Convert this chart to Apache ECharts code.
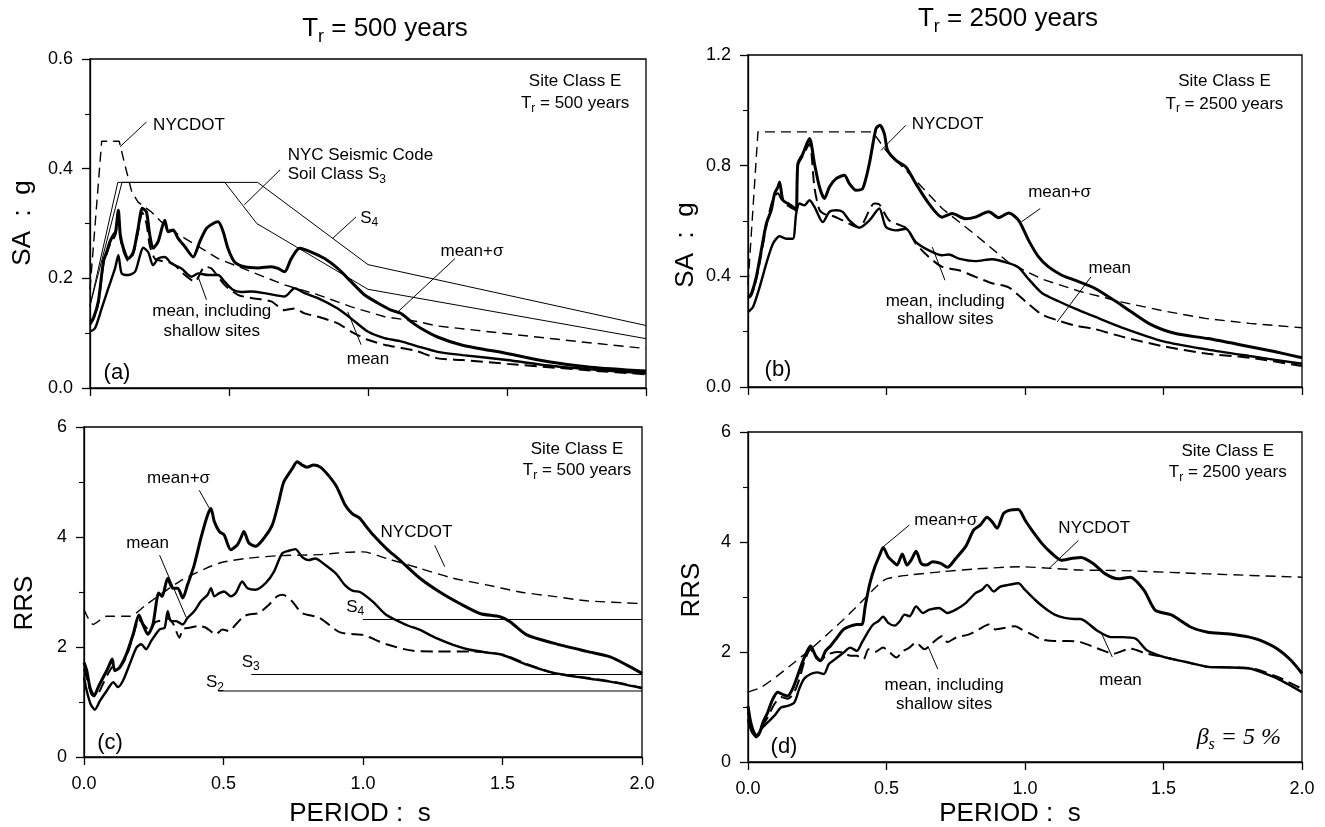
<!DOCTYPE html>
<html>
<head>
<meta charset="utf-8">
<title>Site Class E response spectra</title>
<script src="https://cdn.jsdelivr.net/npm/echarts@6/dist/echarts.min.js"></script>
<style>
  html, body { margin: 0; padding: 0; background: #fff; }
  #chart { width: 1325px; height: 827px; }
</style>
</head>
<body>
<div id="chart"></div>
<script>
// period axis ticks, shared by all four panels
const periodTicks = [0, 0.5, 1.0, 1.5, 2.0]

// (a) SA, Tr = 500 years  [period s, SA g]
const aMeanSigma = [[0,0.121],[0.012,0.127],[0.03,0.158],[0.048,0.23],[0.06,0.248],[0.072,0.267],[0.084,0.279],[0.092,0.285],[0.102,0.324],[0.109,0.279],[0.12,0.255],[0.138,0.236],[0.156,0.248],[0.173,0.291],[0.188,0.328],[0.203,0.321],[0.215,0.279],[0.227,0.255],[0.245,0.267],[0.269,0.306],[0.281,0.285],[0.299,0.288],[0.317,0.273],[0.341,0.258],[0.371,0.239],[0.395,0.267],[0.419,0.291],[0.443,0.30],[0.461,0.303],[0.479,0.285],[0.496,0.255],[0.52,0.23],[0.556,0.221],[0.604,0.219],[0.652,0.221],[0.676,0.218],[0.70,0.212],[0.724,0.236],[0.754,0.255],[0.796,0.248],[0.844,0.236],[0.891,0.218],[0.939,0.194],[0.987,0.17],[1.035,0.155],[1.083,0.142],[1.119,0.136],[1.155,0.121],[1.19,0.109],[1.25,0.093],[1.34,0.078],[1.5,0.063],[1.65,0.048],[1.8,0.038],[2.0,0.031]]
const aMean = [[0,0.103],[0.018,0.109],[0.042,0.145],[0.066,0.182],[0.09,0.218],[0.102,0.242],[0.114,0.209],[0.138,0.206],[0.162,0.212],[0.18,0.242],[0.191,0.256],[0.209,0.248],[0.227,0.224],[0.245,0.236],[0.269,0.239],[0.293,0.227],[0.329,0.218],[0.365,0.203],[0.389,0.209],[0.425,0.206],[0.461,0.206],[0.484,0.194],[0.514,0.179],[0.544,0.175],[0.58,0.176],[0.628,0.173],[0.70,0.167],[0.736,0.182],[0.772,0.173],[0.82,0.164],[0.891,0.145],[0.939,0.127],[0.999,0.103],[1.059,0.091],[1.119,0.085],[1.178,0.076],[1.25,0.066],[1.34,0.06],[1.5,0.051],[1.65,0.041],[1.8,0.034],[2.0,0.027]]
const aShallow = [[0,0.115],[0.012,0.125],[0.03,0.155],[0.048,0.225],[0.06,0.245],[0.072,0.262],[0.084,0.272],[0.092,0.28],[0.102,0.31],[0.109,0.275],[0.12,0.25],[0.138,0.232],[0.156,0.245],[0.173,0.285],[0.188,0.32],[0.203,0.30],[0.215,0.26],[0.233,0.236],[0.255,0.232],[0.281,0.23],[0.305,0.224],[0.341,0.206],[0.377,0.194],[0.413,0.221],[0.437,0.218],[0.484,0.188],[0.532,0.17],[0.58,0.164],[0.652,0.158],[0.70,0.142],[0.736,0.145],[0.772,0.136],[0.82,0.13],[0.891,0.118],[0.939,0.103],[0.999,0.088],[1.059,0.079],[1.119,0.073],[1.178,0.067],[1.25,0.054],[1.34,0.051],[1.5,0.044],[1.65,0.038],[1.8,0.032],[2.0,0.025]]
const aNycdot = [[0,0.18],[0.042,0.45],[0.105,0.45],[0.126,0.406],[0.15,0.358],[0.173,0.339],[0.221,0.321],[0.281,0.291],[0.341,0.273],[0.461,0.236],[0.58,0.212],[0.70,0.188],[0.82,0.17],[0.94,0.148],[1.06,0.13],[1.18,0.121],[1.25,0.113],[1.5,0.099],[1.75,0.085],[2.0,0.072]]
const aCodeS3 = [[0,0.15],[0.1,0.375],[0.485,0.375],[0.6,0.30],[1.0,0.18],[2.0,0.09]]
const aCodeS4 = [[0,0.15],[0.115,0.375],[0.603,0.375],[1.0,0.225],[2.0,0.114]]

// (b) SA, Tr = 2500 years
const bMeanSigma = [[0,0.325],[0.012,0.337],[0.03,0.398],[0.048,0.494],[0.066,0.59],[0.084,0.639],[0.096,0.699],[0.108,0.723],[0.114,0.741],[0.126,0.675],[0.144,0.663],[0.162,0.651],[0.174,0.639],[0.18,0.807],[0.198,0.843],[0.222,0.898],[0.24,0.807],[0.258,0.723],[0.276,0.681],[0.294,0.723],[0.318,0.753],[0.348,0.765],[0.366,0.735],[0.39,0.711],[0.414,0.717],[0.438,0.807],[0.462,0.934],[0.476,0.946],[0.492,0.916],[0.504,0.855],[0.534,0.819],[0.57,0.795],[0.606,0.735],[0.653,0.663],[0.701,0.614],[0.737,0.627],[0.785,0.608],[0.821,0.614],[0.869,0.633],[0.905,0.612],[0.941,0.629],[0.977,0.602],[1.013,0.53],[1.049,0.47],[1.085,0.434],[1.133,0.404],[1.18,0.386],[1.25,0.358],[1.35,0.295],[1.45,0.228],[1.54,0.194],[1.66,0.175],[1.78,0.152],[1.9,0.128],[2.0,0.106]]
const bMean = [[0,0.271],[0.018,0.289],[0.042,0.361],[0.066,0.446],[0.09,0.518],[0.114,0.545],[0.138,0.536],[0.162,0.536],[0.174,0.627],[0.186,0.663],[0.204,0.657],[0.222,0.675],[0.24,0.651],[0.27,0.596],[0.294,0.633],[0.318,0.639],[0.342,0.633],[0.366,0.602],[0.402,0.576],[0.438,0.602],[0.474,0.645],[0.498,0.578],[0.534,0.566],[0.57,0.572],[0.606,0.524],[0.653,0.494],[0.701,0.476],[0.725,0.479],[0.761,0.464],[0.821,0.455],[0.881,0.462],[0.941,0.448],[0.977,0.432],[1.013,0.39],[1.061,0.34],[1.121,0.31],[1.181,0.283],[1.25,0.255],[1.35,0.215],[1.5,0.165],[1.66,0.135],[1.81,0.112],[2.0,0.084]]
const bShallow = [[0,0.32],[0.012,0.33],[0.03,0.39],[0.048,0.48],[0.066,0.58],[0.084,0.66],[0.096,0.69],[0.108,0.70],[0.12,0.68],[0.144,0.655],[0.162,0.645],[0.174,0.64],[0.18,0.80],[0.198,0.835],[0.222,0.88],[0.24,0.72],[0.258,0.64],[0.276,0.625],[0.30,0.62],[0.342,0.602],[0.40,0.576],[0.456,0.663],[0.474,0.66],[0.51,0.602],[0.57,0.575],[0.606,0.518],[0.653,0.47],[0.701,0.434],[0.761,0.422],[0.821,0.398],[0.881,0.375],[0.941,0.36],[1.001,0.31],[1.061,0.262],[1.121,0.24],[1.181,0.222],[1.25,0.21],[1.35,0.182],[1.5,0.147],[1.66,0.12],[1.81,0.106],[2.0,0.076]]
const bNycdot = [[0,0.37],[0.036,0.922],[0.45,0.922],[0.498,0.855],[0.582,0.771],[0.701,0.645],[0.821,0.55],[0.941,0.45],[1.061,0.39],[1.2,0.345],[1.35,0.307],[1.5,0.275],[1.65,0.248],[1.81,0.23],[2.0,0.214]]

// (c) RRS, Tr = 500 years
const cMeanSigma = [[0,1.72],[0.01,1.57],[0.021,1.27],[0.036,1.11],[0.051,1.27],[0.069,1.45],[0.087,1.63],[0.101,1.78],[0.11,1.57],[0.128,1.63],[0.152,1.87],[0.176,2.23],[0.197,2.58],[0.211,2.41],[0.229,2.23],[0.247,2.41],[0.268,2.98],[0.28,2.92],[0.30,3.25],[0.318,3.07],[0.336,3.07],[0.354,2.89],[0.371,3.13],[0.395,3.49],[0.419,3.98],[0.443,4.4],[0.455,4.52],[0.467,4.28],[0.485,4.1],[0.502,4.04],[0.526,3.77],[0.55,3.86],[0.562,3.98],[0.573,4.1],[0.591,3.89],[0.615,3.83],[0.645,3.98],[0.675,4.22],[0.698,4.64],[0.716,5.0],[0.746,5.24],[0.764,5.37],[0.781,5.31],[0.799,5.27],[0.823,5.31],[0.847,5.27],[0.876,5.12],[0.906,4.91],[0.936,4.58],[0.96,4.43],[0.989,4.34],[1.007,4.22],[1.036,4.04],[1.084,3.79],[1.132,3.58],[1.204,3.25],[1.275,3.0],[1.347,2.79],[1.419,2.61],[1.491,2.55],[1.527,2.46],[1.587,2.22],[1.683,2.07],[1.802,1.92],[1.886,1.82],[1.946,1.67],[2.0,1.52]]
const cMean = [[0,1.45],[0.01,1.2],[0.024,0.96],[0.039,0.86],[0.057,1.02],[0.081,1.2],[0.105,1.36],[0.122,1.27],[0.14,1.39],[0.164,1.69],[0.188,1.99],[0.205,2.05],[0.223,1.96],[0.241,2.11],[0.271,2.32],[0.289,2.35],[0.30,2.65],[0.312,2.47],[0.33,2.47],[0.354,2.41],[0.371,2.53],[0.395,2.65],[0.419,2.83],[0.443,2.95],[0.455,3.07],[0.467,2.92],[0.485,2.98],[0.502,3.01],[0.526,2.92],[0.544,2.98],[0.567,3.19],[0.586,3.07],[0.615,3.04],[0.651,3.16],[0.681,3.37],[0.71,3.7],[0.734,3.75],[0.758,3.78],[0.781,3.64],[0.805,3.58],[0.829,3.61],[0.865,3.49],[0.904,3.33],[0.936,3.12],[0.964,3.02],[0.989,3.0],[1.036,2.82],[1.084,2.58],[1.156,2.4],[1.204,2.31],[1.263,2.16],[1.323,2.04],[1.383,1.95],[1.443,1.9],[1.503,1.85],[1.587,1.68],[1.683,1.53],[1.802,1.43],[1.886,1.37],[2.0,1.25]]
const cShallow = [[0,1.6],[0.012,1.4],[0.03,1.12],[0.05,1.15],[0.07,1.35],[0.09,1.55],[0.105,1.65],[0.12,1.6],[0.15,1.8],[0.176,2.2],[0.197,2.5],[0.215,2.4],[0.235,2.3],[0.255,2.45],[0.275,2.48],[0.30,2.52],[0.32,2.42],[0.342,2.17],[0.354,2.32],[0.377,2.35],[0.413,2.38],[0.437,2.35],[0.473,2.23],[0.496,2.32],[0.52,2.29],[0.544,2.41],[0.573,2.56],[0.591,2.59],[0.627,2.62],[0.663,2.77],[0.692,2.92],[0.713,2.95],[0.746,2.83],[0.781,2.62],[0.844,2.53],[0.916,2.27],[0.971,2.23],[1.0,2.22],[1.084,2.05],[1.18,1.93],[1.263,1.92],[1.383,1.92],[1.503,1.86],[1.587,1.69],[1.683,1.53],[1.802,1.44],[1.886,1.38],[2.0,1.26]]
const cNycdot = [[0,2.68],[0.033,2.41],[0.081,2.56],[0.164,2.56],[0.223,2.77],[0.342,3.19],[0.437,3.43],[0.496,3.54],[0.58,3.61],[0.698,3.66],[0.844,3.68],[0.936,3.72],[1.0,3.73],[1.084,3.61],[1.204,3.43],[1.323,3.25],[1.443,3.13],[1.563,3.0],[1.683,2.92],[1.802,2.84],[2.0,2.79]]
const cCodeS2 = [[0.48,1.2],[2.0,1.2]]
const cCodeS3 = [[0.6,1.5],[2.0,1.5]]
const cCodeS4 = [[1.0,2.5],[2.0,2.5]]

// (d) RRS, Tr = 2500 years
const dMeanSigma = [[0,1.02],[0.01,0.72],[0.024,0.51],[0.036,0.48],[0.054,0.72],[0.071,0.9],[0.089,1.14],[0.107,1.27],[0.125,1.23],[0.143,1.2],[0.161,1.33],[0.179,1.57],[0.196,1.81],[0.214,2.02],[0.226,2.11],[0.244,1.93],[0.262,1.84],[0.28,2.02],[0.298,2.11],[0.321,2.26],[0.345,2.41],[0.369,2.47],[0.393,2.5],[0.411,2.5],[0.423,2.83],[0.44,3.25],[0.458,3.55],[0.476,3.77],[0.488,3.9],[0.506,3.73],[0.524,3.64],[0.538,3.58],[0.557,3.78],[0.574,3.58],[0.589,3.67],[0.607,3.83],[0.625,3.61],[0.643,3.58],[0.667,3.64],[0.696,3.61],[0.72,3.54],[0.75,3.7],[0.786,3.92],[0.815,4.22],[0.839,4.31],[0.863,4.45],[0.881,4.37],[0.899,4.25],[0.923,4.52],[0.946,4.58],[0.976,4.59],[1.0,4.4],[1.024,4.22],[1.06,3.98],[1.095,3.8],[1.131,3.67],[1.167,3.7],[1.202,3.72],[1.246,3.61],[1.29,3.42],[1.337,3.33],[1.38,3.36],[1.43,3.12],[1.47,2.76],[1.53,2.67],[1.6,2.45],[1.66,2.36],[1.73,2.33],[1.81,2.27],[1.85,2.21],[1.91,2.06],[1.96,1.85],[2.0,1.61]]
const dMean = [[0,0.78],[0.012,0.57],[0.03,0.45],[0.048,0.6],[0.071,0.72],[0.095,0.84],[0.119,0.99],[0.143,1.02],[0.167,1.08],[0.185,1.33],[0.202,1.51],[0.226,1.6],[0.25,1.63],[0.274,1.6],[0.292,1.78],[0.315,1.87],[0.345,1.99],[0.369,2.08],[0.393,2.02],[0.411,2.17],[0.435,2.38],[0.452,2.5],[0.47,2.56],[0.488,2.64],[0.506,2.53],[0.53,2.48],[0.548,2.56],[0.565,2.68],[0.583,2.65],[0.607,2.83],[0.631,2.71],[0.655,2.77],[0.69,2.8],[0.72,2.71],[0.75,2.77],[0.786,2.89],[0.821,3.07],[0.845,3.13],[0.863,3.22],[0.887,3.1],[0.911,3.19],[0.94,3.22],[0.976,3.25],[1.0,3.13],[1.036,2.95],[1.071,2.8],[1.107,2.68],[1.143,2.62],[1.179,2.6],[1.2,2.6],[1.26,2.39],[1.31,2.27],[1.35,2.27],[1.4,2.24],[1.44,2.03],[1.5,1.91],[1.58,1.82],[1.66,1.73],[1.73,1.72],[1.81,1.7],[1.85,1.64],[1.91,1.52],[2.0,1.27]]
const dShallow = [[0,0.9],[0.012,0.62],[0.03,0.47],[0.05,0.65],[0.07,0.8],[0.095,1.05],[0.12,1.18],[0.143,1.15],[0.165,1.25],[0.185,1.5],[0.205,1.85],[0.226,2.05],[0.244,1.9],[0.262,1.85],[0.285,1.95],[0.32,2.0],[0.345,1.99],[0.37,1.93],[0.393,1.93],[0.417,1.87],[0.435,2.05],[0.458,2.0],[0.488,2.08],[0.512,1.99],[0.536,1.9],[0.56,2.02],[0.58,2.07],[0.607,2.17],[0.637,2.05],[0.667,2.17],[0.702,2.29],[0.72,2.18],[0.75,2.26],[0.798,2.32],[0.833,2.41],[0.869,2.5],[0.893,2.41],[0.929,2.44],[0.964,2.47],[0.988,2.41],[1.024,2.32],[1.06,2.23],[1.107,2.2],[1.155,2.2],[1.2,2.18],[1.28,2.03],[1.32,1.97],[1.38,2.06],[1.44,1.97],[1.5,1.91],[1.58,1.82],[1.66,1.73],[1.73,1.72],[1.81,1.71],[1.91,1.55],[2.0,1.33]]
const dNycdot = [[0,1.27],[0.048,1.36],[0.107,1.57],[0.167,1.81],[0.226,2.05],[0.286,2.32],[0.345,2.59],[0.405,2.89],[0.464,3.19],[0.5,3.33],[0.583,3.4],[0.702,3.46],[0.821,3.51],[0.988,3.55],[1.095,3.52],[1.202,3.49],[1.35,3.48],[1.66,3.42],[2.0,3.36]]

// y axis ranges per panel: [max, interval]
const yRanges = [[0.6, 0.2], [1.2, 0.4], [6, 2], [6, 2]]

const FONT = '"Liberation Sans", Arial, Helvetica, sans-serif'
const SERIF = '"Liberation Serif", "Times New Roman", serif'

const chart = echarts.init(document.getElementById('chart'), null, { renderer: 'canvas' })

const grids = [
    { left: 90, top: 59, width: 556, height: 329 },
    { left: 748, top: 55, width: 554, height: 332 },
    { left: 84, top: 427, width: 558, height: 330 },
    { left: 748, top: 432, width: 554, height: 330 },
].map(g => Object.assign({ show: true, borderColor: '#000', borderWidth: 1.3, containLabel: false }, g))

const xAxes = grids.map((g, i) => ({
    type: 'value',
    gridIndex: i,
    min: periodTicks[0],
    max: periodTicks[periodTicks.length - 1],
    interval: periodTicks[1] - periodTicks[0],
    axisLine: { show: true, onZero: false, lineStyle: { color: '#000', width: 1.3 } },
    axisTick: { show: true, inside: false, length: 8, lineStyle: { color: '#000', width: 1.3 } },
    splitLine: { show: false },
    axisLabel: {
        show: i >= 2,
        margin: 18,
        color: '#000',
        fontSize: 18,
        fontFamily: FONT,
        formatter: v => v.toFixed(1),
    },
}))

const yAxes = yRanges.map(([max, step], i) => ({
    type: 'value',
    gridIndex: i,
    min: 0,
    max: max,
    interval: step,
    axisLine: { show: true, onZero: false, lineStyle: { color: '#000', width: 1.3 } },
    axisTick: { show: true, inside: false, length: 8, lineStyle: { color: '#000', width: 1.3 } },
    minorTick: { show: true, splitNumber: 2, length: 5, lineStyle: { color: '#000', width: 1.1 } },
    splitLine: { show: false },
    minorSplitLine: { show: false },
    axisLabel: {
        margin: 17,
        color: '#000',
        fontSize: 18,
        fontFamily: FONT,
        formatter: v => (i < 2 ? v.toFixed(1) : String(Math.round(v))),
    },
}))

const styles = {
    meanSigma: { color: '#000', width: 3, type: 'solid' },
    mean: { color: '#000', width: 2.4, type: 'solid' },
    shallow: { color: '#000', width: 2, type: [12, 6] },
    nycdot: { color: '#000', width: 1.4, type: [10, 6] },
    code: { color: '#000', width: 1, type: 'solid' },
}

function line(grid, name, data, style, smooth) {
    return {
        type: 'line',
        name: name,
        xAxisIndex: grid,
        yAxisIndex: grid,
        data: data,
        symbol: 'none',
        smooth: smooth ? 0.25 : false,
        lineStyle: style,
        silent: true,
        z: style.width > 2 ? 3 : 2,
    }
}

const series = [
    line(0, 'NYC Code S3', aCodeS3, styles.code, false),
    line(0, 'NYC Code S4', aCodeS4, styles.code, false),
    line(0, 'NYCDOT', aNycdot, styles.nycdot, false),
    line(0, 'mean, including shallow sites', aShallow, styles.shallow, true),
    line(0, 'mean', aMean, styles.mean, true),
    line(0, 'mean+σ', aMeanSigma, styles.meanSigma, true),

    line(1, 'NYCDOT', bNycdot, styles.nycdot, false),
    line(1, 'mean, including shallow sites', bShallow, styles.shallow, true),
    line(1, 'mean', bMean, styles.mean, true),
    line(1, 'mean+σ', bMeanSigma, styles.meanSigma, true),

    line(2, 'S2', cCodeS2, styles.code, false),
    line(2, 'S3', cCodeS3, styles.code, false),
    line(2, 'S4', cCodeS4, styles.code, false),
    line(2, 'NYCDOT', cNycdot, styles.nycdot, true),
    line(2, 'mean, including shallow sites', cShallow, styles.shallow, true),
    line(2, 'mean', cMean, styles.mean, true),
    line(2, 'mean+σ', cMeanSigma, styles.meanSigma, true),

    line(3, 'NYCDOT', dNycdot, styles.nycdot, true),
    line(3, 'mean, including shallow sites', dShallow, styles.shallow, true),
    line(3, 'mean', dMean, styles.mean, true),
    line(3, 'mean+σ', dMeanSigma, styles.meanSigma, true),
]

chart.setOption({
    animation: false,
    backgroundColor: '#fff',
    grid: grids,
    xAxis: xAxes,
    yAxis: yAxes,
    series: series,
})

// ---- annotations (text, subscripts, leader lines) ----
const measureCtx = document.createElement('canvas').getContext('2d')

function fontStr(size, family, italic) {
    return (italic ? 'italic ' : '') + size + 'px ' + family
}

// parts: [[text, isSub], ...]; returns text elements laid out left to right
function textRun(x, y, parts, size, align, family, italic) {
    family = family || FONT
    const subSize = Math.round(size * 0.68)
    const widths = parts.map(([t, sub]) => {
        measureCtx.font = fontStr(sub ? subSize : size, family, italic)
        return measureCtx.measureText(t).width
    })
    const total = widths.reduce((s, w) => s + w, 0)
    let cx = align === 'center' ? x - total / 2 : align === 'right' ? x - total : x
    return parts.map(([t, sub], k) => {
        const el = {
            type: 'text',
            silent: true,
            x: cx,
            y: sub ? y + size * 0.3 : y,
            style: {
                text: t,
                font: fontStr(sub ? subSize : size, family, italic),
                fill: '#000',
                align: 'left',
                verticalAlign: 'middle',
                textAlign: 'left',
                textVerticalAlign: 'middle',
            },
        }
        cx += widths[k]
        return el
    })
}

function px(grid, point) {
    return chart.convertToPixel({ gridIndex: grid }, point)
}

// labels in data coordinates: [grid, T, value, parts, align]
const labels = [
    [0, 1.745, 0.559, [['Site Class E', false]], 'center'],
    [0, 1.745, 0.519, [['T', false], ['r', true], [' = 500 years', false]], 'center'],
    [0, 0.227, 0.479, [['NYCDOT', false]], 'left'],
    [0, 0.711, 0.425, [['NYC Seismic Code', false]], 'left'],
    [0, 0.711, 0.389, [['Soil Class S', false], ['3', true]], 'left'],
    [0, 0.972, 0.31, [['S', false], ['4', true]], 'left'],
    [0, 1.374, 0.249, [['mean+σ', false]], 'center'],
    [0, 0.438, 0.139, [['mean, including', false]], 'center'],
    [0, 0.438, 0.104, [['shallow sites', false]], 'center'],
    [0, 1.0, 0.052, [['mean', false]], 'center'],

    [1, 1.72, 1.104, [['Site Class E', false]], 'center'],
    [1, 1.72, 1.023, [['T', false], ['r', true], [' = 2500 years', false]], 'center'],
    [1, 0.591, 0.948, [['NYCDOT', false]], 'left'],
    [1, 1.125, 0.702, [['mean+σ', false]], 'center'],
    [1, 1.306, 0.428, [['mean', false]], 'center'],
    [1, 0.712, 0.311, [['mean, including', false]], 'center'],
    [1, 0.712, 0.245, [['shallow sites', false]], 'center'],

    [2, 1.767, 5.6, [['Site Class E', false]], 'center'],
    [2, 1.767, 5.21, [['T', false], ['r', true], [' = 500 years', false]], 'center'],
    [2, 0.339, 5.07, [['mean+σ', false]], 'center'],
    [2, 0.228, 3.89, [['mean', false]], 'center'],
    [2, 1.063, 4.09, [['NYCDOT', false]], 'left'],
    [2, 0.94, 2.73, [['S', false], ['4', true]], 'left'],
    [2, 0.565, 1.73, [['S', false], ['3', true]], 'left'],
    [2, 0.437, 1.36, [['S', false], ['2', true]], 'left'],

    [3, 1.732, 5.64, [['Site Class E', false]], 'center'],
    [3, 1.732, 5.27, [['T', false], ['r', true], [' = 2500 years', false]], 'center'],
    [3, 0.714, 4.4, [['mean+σ', false]], 'center'],
    [3, 1.25, 4.24, [['NYCDOT', false]], 'center'],
    [3, 0.708, 1.39, [['mean, including', false]], 'center'],
    [3, 0.708, 1.04, [['shallow sites', false]], 'center'],
    [3, 1.345, 1.48, [['mean', false]], 'center'],
]

// leader lines: [grid, [T1, v1], [T2, v2]]
const leaders = [
    [0, [0.203, 0.485], [0.108, 0.44]],
    [0, [0.684, 0.398], [0.555, 0.334]],
    [0, [0.957, 0.312], [0.873, 0.273]],
    [0, [1.313, 0.236], [1.108, 0.139]],
    [0, [0.419, 0.161], [0.389, 0.203]],
    [0, [0.975, 0.079], [0.927, 0.139]],
    [1, [0.57, 0.946], [0.48, 0.855]],
    [1, [1.055, 0.645], [0.987, 0.597]],
    [1, [1.238, 0.398], [1.116, 0.235]],
    [1, [0.711, 0.386], [0.665, 0.506]],
    [2, [0.413, 4.85], [0.455, 4.47]],
    [2, [0.271, 3.67], [0.366, 2.54]],
    [2, [1.257, 3.85], [1.293, 3.46]],
    [3, [0.583, 4.31], [0.49, 3.92]],
    [3, [1.193, 4.03], [1.087, 3.52]],
    [3, [0.685, 1.69], [0.649, 2.11]],
    [3, [1.315, 1.91], [1.277, 2.33]],
]

const graphics = []

labels.forEach(([g, t, v, parts, align]) => {
    const [x, y] = px(g, [t, v])
    graphics.push(...textRun(x, y, parts, 17, align))
})

leaders.forEach(([g, p1, p2]) => {
    const a = px(g, p1)
    const b = px(g, p2)
    graphics.push({
        type: 'line',
        silent: true,
        shape: { x1: a[0], y1: a[1], x2: b[0], y2: b[1] },
        style: { stroke: '#000', lineWidth: 1 },
    })
})

// damping note in (d)
{
    const [x, y] = px(3, [1.772, 0.44])
    graphics.push(...textRun(x, y, [['β', false], ['s', true], [' = 5 %', false]], 24, 'center', SERIF, true))
}

// panel letters
const panelLetters = [['(a)', 117, 373], ['(b)', 778, 370], ['(c)', 110, 743], ['(d)', 784, 747]]
panelLetters.forEach(([t, x, y]) => graphics.push(...textRun(x, y, [[t, false]], 22, 'center')))

// column titles
graphics.push(...textRun(385, 29, [['T', false], ['r', true], [' = 500 years', false]], 26, 'center'))
graphics.push(...textRun(1008, 19, [['T', false], ['r', true], [' = 2500 years', false]], 26, 'center'))

// axis names
const yNames = [['SA  :  g', 23, 223], ['SA  :  g', 686, 245], ['RRS', 25, 603], ['RRS', 692, 590]]
yNames.forEach(([t, x, y]) => graphics.push({
    type: 'text',
    silent: true,
    x: x,
    y: y,
    rotation: Math.PI / 2,
    style: { text: t, font: fontStr(26, FONT), fill: '#000', align: 'center', verticalAlign: 'middle', textAlign: 'center', textVerticalAlign: 'middle' },
}))
const xNames = [['PERIOD :  s', 360, 814], ['PERIOD :  s', 1010, 814]]
xNames.forEach(([t, x, y]) => graphics.push(...textRun(x, y, [[t, false]], 26, 'center')))

chart.setOption({ graphic: { elements: graphics } })

window.addEventListener('resize', () => chart.resize())
</script>
</body>
</html>
